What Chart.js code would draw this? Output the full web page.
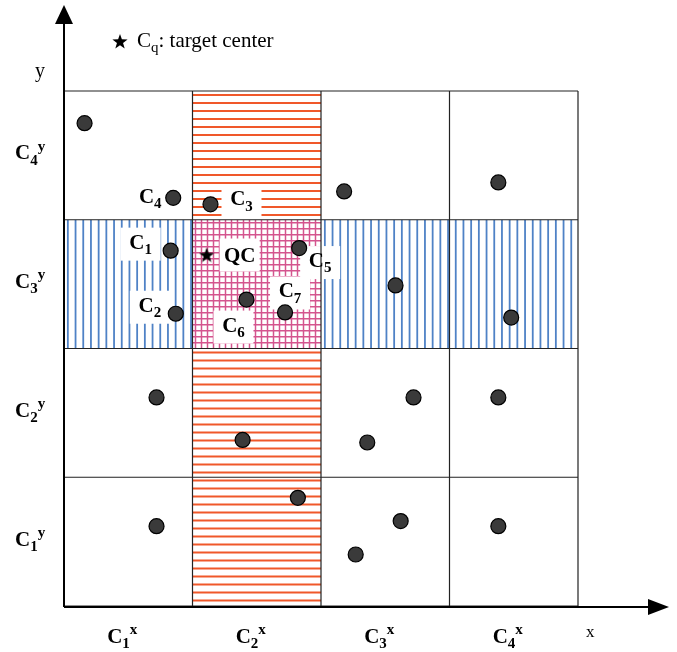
<!DOCTYPE html>
<html>
<head>
<meta charset="utf-8">
<script src="https://cdn.jsdelivr.net/npm/chart.js@4.4.0/dist/chart.umd.min.js"></script>
<style>
  html, body { margin: 0; padding: 0; background: #fff; }
  #wrap { width: 677px; height: 652px; }
</style>
</head>
<body>
<div id="wrap"><canvas id="chart" width="677" height="652"></canvas></div>
<script>
// cell indices along each axis, grid boundaries in cell units
const cellIndex = ['1', '2', '3', '4']
const gridLines = [0, 1, 2, 3, 4]

// objects (cell units)
const pointX = [0.16, 0.85, 1.14, 2.18, 3.38, 0.83, 1.83, 2.58, 1.72, 1.42, 0.87, 3.48, 0.72, 1.39, 2.36, 2.72, 3.38, 1.82, 0.72, 2.62, 2.27, 3.38]
const pointY = [3.75, 3.17, 3.12, 3.22, 3.29, 2.76, 2.78, 2.49, 2.28, 2.38, 2.27, 2.24, 1.62, 1.29, 1.27, 1.62, 1.62, 0.84, 0.62, 0.66, 0.40, 0.62]
const pointName = ['', 'C4', 'C3', '', '', 'C1', 'C5', '', 'C7', 'C6', 'C2', '', '', '', '', '', '', '', '', '', '', '']

// query center
const qcX = [1.11]
const qcY = [2.73]

// query column (C2x) and row (C3y)
const queryCol = [1, 2]
const queryRow = [2, 3]

// label placement relative to its mark, in pixels
const labelOffset = {
  C4: [-23, 0], C3: [31, -4], C1: [-30, -7], C5: [21, 14],
  C7: [5, -20], C6: [-13, 27], C2: [-26, -7], QC: [33, 0]
}

const SERIF = '"Liberation Serif", "Times New Roman", serif'

function makeStar (size) {
  const c = document.createElement('canvas')
  c.width = c.height = size
  const g = c.getContext('2d')
  g.fillStyle = '#000'
  g.beginPath()
  for (let i = 0; i < 10; i++) {
    const r = i % 2 ? size * 0.2 : size * 0.5
    const a = -Math.PI / 2 + i * Math.PI / 5
    g.lineTo(size / 2 + r * Math.cos(a), size / 2 + size * 0.06 + r * Math.sin(a))
  }
  g.closePath()
  g.fill()
  return c
}
const starImg = makeStar(16)

// text like C with a subscript and/or superscript
function scriptText (ctx, base, sub, sup, x, y, size, bold, align) {
  const w = bold ? 'bold ' : ''
  const small = Math.round(size * 0.72)
  ctx.font = `${w}${size}px ${SERIF}`
  const wb = ctx.measureText(base).width
  ctx.font = `${w}${small}px ${SERIF}`
  const ws = sub ? ctx.measureText(sub).width : 0
  const wp = sup ? ctx.measureText(sup).width : 0
  const total = wb + ws + wp
  let x0 = x
  if (align === 'center') x0 = x - total / 2
  ctx.fillStyle = '#000'
  ctx.textAlign = 'left'
  ctx.textBaseline = 'alphabetic'
  ctx.font = `${w}${size}px ${SERIF}`
  ctx.fillText(base, x0, y)
  ctx.font = `${w}${small}px ${SERIF}`
  if (sub) ctx.fillText(sub, x0 + wb, y + size * 0.25)
  if (sup) ctx.fillText(sup, x0 + wb + ws, y - size * 0.42)
  return x0 + total
}

function hatch (ctx, x0, x1, y0, y1, dir, gap, color, lw) {
  ctx.save()
  ctx.beginPath()
  ctx.rect(x0, y0, x1 - x0, y1 - y0)
  ctx.clip()
  ctx.strokeStyle = color
  ctx.lineWidth = lw
  ctx.beginPath()
  if (dir === 'h') {
    for (let y = y0 + gap / 2; y < y1; y += gap) { ctx.moveTo(x0, y); ctx.lineTo(x1, y) }
  } else {
    for (let x = x0 + gap / 2; x < x1; x += gap) { ctx.moveTo(x, y0); ctx.lineTo(x, y1) }
  }
  ctx.stroke()
  ctx.restore()
}

const gridPlugin = {
  id: 'grid',
  beforeDatasetsDraw (chart) {
    const { ctx, scales: { x, y } } = chart
    const px = v => x.getPixelForValue(v)
    const py = v => y.getPixelForValue(v)
    const left = px(0), right = px(4), top = py(4), bottom = py(0)
    const cx0 = px(queryCol[0]), cx1 = px(queryCol[1])
    const ry0 = py(queryRow[1]), ry1 = py(queryRow[0])

    // column hatch (horizontal red lines), skipping the overlap
    hatch(ctx, cx0, cx1, top, ry0, 'h', 8, '#f0582a', 1.8)
    hatch(ctx, cx0, cx1, ry1, bottom, 'h', 8, '#f0582a', 1.8)
    // row hatch (vertical blue lines)
    hatch(ctx, left, cx0, ry0, ry1, 'v', 7.7, '#4f82c6', 1.8)
    hatch(ctx, cx1, right, ry0, ry1, 'v', 7.7, '#4f82c6', 1.8)
    // overlap: crosshatch
    hatch(ctx, cx0, cx1, ry0, ry1, 'h', 6, '#d4548e', 1.5)
    hatch(ctx, cx0, cx1, ry0, ry1, 'v', 6, '#d4548e', 1.5)

    // white label boxes
    const meta = chart.getDatasetMeta(0)
    ctx.fillStyle = '#fff'
    const boxes = []
    pointName.forEach((n, i) => {
      if (n) boxes.push([n, meta.data[i].x, meta.data[i].y])
    })
    const qm = chart.getDatasetMeta(1).data[0]
    boxes.push(['QC', qm.x, qm.y])
    boxes.forEach(([n, bx, by]) => {
      if (n === 'C4') return
      const [dx, dy] = labelOffset[n]
      ctx.fillRect(bx + dx - 20, by + dy - 16, 40, 33)
    })

    // cell borders
    ctx.strokeStyle = '#222'
    ctx.lineWidth = 1.2
    ctx.beginPath()
    gridLines.forEach(g => {
      ctx.moveTo(px(g), top); ctx.lineTo(px(g), bottom)
      ctx.moveTo(left, py(g)); ctx.lineTo(right, py(g))
    })
    ctx.stroke()

    // point labels
    boxes.forEach(([n, bx, by]) => {
      const [dx, dy] = labelOffset[n]
      if (n === 'QC') {
        ctx.font = `bold 21px ${SERIF}`
        ctx.fillStyle = '#000'
        ctx.textAlign = 'center'
        ctx.textBaseline = 'alphabetic'
        ctx.fillText('QC', bx + dx, by + dy + 7)
      } else {
        scriptText(ctx, 'C', n.slice(1), '', bx + dx, by + dy + 5, 21, true, 'center')
      }
    })

    // axis cell labels
    cellIndex.forEach((c, i) => {
      scriptText(ctx, 'C', c, 'x', px(i + 0.5) - 6, 643, 21, true, 'center')
      scriptText(ctx, 'C', c, 'y', 15, py(i + 0.5) + 4, 21, true, 'left')
    })
  },
  afterDraw (chart) {
    const { ctx, scales: { x, y } } = chart
    const ox = x.getPixelForValue(0)
    const oy = y.getPixelForValue(0) + 1
    ctx.save()
    ctx.strokeStyle = '#000'
    ctx.fillStyle = '#000'
    ctx.lineWidth = 2
    ctx.beginPath()
    ctx.moveTo(ox, oy); ctx.lineTo(ox, 22)
    ctx.moveTo(ox, oy); ctx.lineTo(650, oy)
    ctx.stroke()
    ctx.beginPath()
    ctx.moveTo(ox, 5); ctx.lineTo(ox - 9, 24); ctx.lineTo(ox + 9, 24); ctx.closePath()
    ctx.fill()
    ctx.beginPath()
    ctx.moveTo(669, oy); ctx.lineTo(648, oy - 8); ctx.lineTo(648, oy + 8); ctx.closePath()
    ctx.fill()

    // axis names
    ctx.font = `20px ${SERIF}`
    ctx.textAlign = 'left'
    ctx.textBaseline = 'alphabetic'
    ctx.fillText('y', 35, 77)
    ctx.font = `17px ${SERIF}`
    ctx.fillText('x', 586, 637)

    // legend
    ctx.drawImage(starImg, 112, 33)
    const end = scriptText(ctx, 'C', 'q', '', 137, 47, 21, false, 'left')
    ctx.font = `21px ${SERIF}`
    ctx.fillText(': target center', end, 47)
    ctx.restore()
  }
}

new Chart(document.getElementById('chart'), {
  type: 'scatter',
  data: {
    datasets: [
      {
        label: 'objects',
        data: pointX.map((v, i) => ({ x: v, y: pointY[i] })),
        pointStyle: 'circle',
        pointRadius: 7.5,
        pointHoverRadius: 7.5,
        backgroundColor: '#3a3a3a',
        borderColor: '#000',
        borderWidth: 1.2
      },
      {
        label: 'QC',
        data: qcX.map((v, i) => ({ x: v, y: qcY[i] })),
        pointStyle: starImg,
        pointRadius: 8
      }
    ]
  },
  options: {
    responsive: false,
    animation: false,
    devicePixelRatio: 1,
    layout: { padding: { left: 64, right: 99, top: 91, bottom: 46 } },
    scales: {
      x: { type: 'linear', min: 0, max: 4, display: false },
      y: { type: 'linear', min: 0, max: 4, display: false }
    },
    plugins: { legend: { display: false }, tooltip: { enabled: false } }
  },
  plugins: [gridPlugin]
})
</script>
</body>
</html>
